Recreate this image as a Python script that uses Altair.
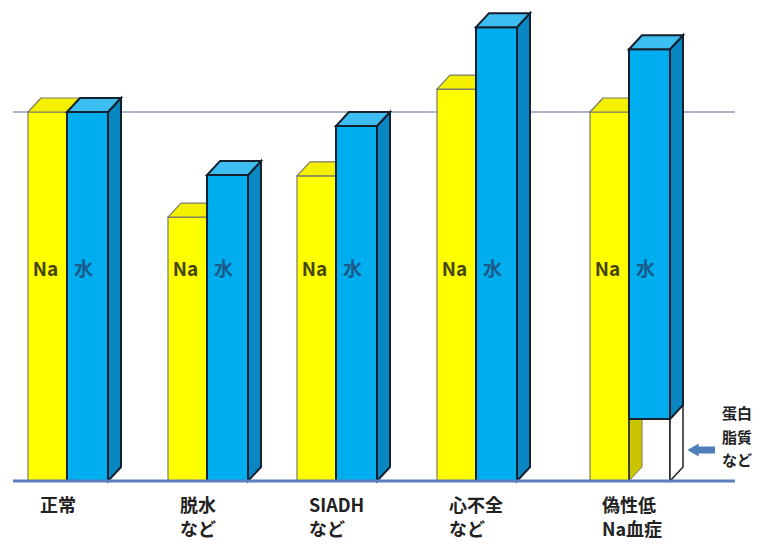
import altair as alt
import pandas as pd

# ---------------- data ----------------
categories = [["正常"], ["脱水", "など"], ["SIADH", "など"], ["心不全", "など"], ["偽性低", "Na血症"]]
na_values = [100, 71.5, 82.7, 106.2, 100]
water_values = [100, 82.9, 96.2, 123.0, 117.0]
water_bottom = [0, 0, 0, 0, 16.8]      # protein / lipid portion (pseudo-hyponatremia)
side_note = ["蛋白", "脂質", "など"]
na_label = "Na"
water_label = "水"
reference_level = 100

# ---------------- layout ----------------
group_left = [28, 168, 297, 437, 590]
NA_W, WA_W = 39, 41
DX, DY_PX = 13, 14
PX_PER_UNIT = 3.69
DY = DY_PX / PX_PER_UNIT
W, H = 747, 534
BASE_Y = 481
FONT = "Noto Sans CJK JP"

xs = alt.Scale(domain=[8, 8 + W], nice=False, zero=False)
ys = alt.Scale(domain=[(BASE_Y - 8 - H) / PX_PER_UNIT, (BASE_Y - 8) / PX_PER_UNIT], nice=False, zero=False)


def v(py):
    return (BASE_Y - py) / PX_PER_UNIT


def fronts(lefts, widths, tops, bottoms):
    return pd.DataFrame({"x": lefts, "x2": [l + w for l, w in zip(lefts, widths)], "y": tops, "y2": bottoms})


def sides(lefts, widths, tops, bottoms):
    rows = []
    for i, (l, w, t, b) in enumerate(zip(lefts, widths, tops, bottoms)):
        r = l + w
        rows.append({"id": i, "x": r, "y": t, "y2": b})
        rows.append({"id": i, "x": r + DX, "y": t + DY, "y2": b + DY})
    return pd.DataFrame(rows)


def tops_(lefts, widths, tops):
    rows = []
    for i, (l, w, t) in enumerate(zip(lefts, widths, tops)):
        rows.append({"id": i, "y": t, "x": l, "x2": l + w})
        rows.append({"id": i, "y": t + DY, "x": l + DX, "x2": l + w + DX})
    return pd.DataFrame(rows)


n = len(categories)
na_left = group_left
na_w = [NA_W] * n
wa_left = [g + NA_W for g in group_left]
wa_w = [WA_W] * n


def rect_layer(df, fill, stroke, sw, opacity=1.0):
    return alt.Chart(df).mark_rect(fill=fill, stroke=stroke, strokeWidth=sw, fillOpacity=opacity).encode(
        x=alt.X("x:Q", scale=xs, axis=None), x2="x2:Q",
        y=alt.Y("y:Q", scale=ys, axis=None), y2="y2:Q")


def side_layer(df, fill, stroke, sw):
    return alt.Chart(df).mark_area(fill=fill, stroke=stroke, strokeWidth=sw, orient="vertical", opacity=1).encode(
        x=alt.X("x:Q", scale=xs, axis=None),
        y=alt.Y("y:Q", scale=ys, axis=None, stack=None), y2="y2:Q",
        detail="id:N")


def top_layer(df, fill, stroke, sw):
    return alt.Chart(df).mark_area(fill=fill, stroke=stroke, strokeWidth=sw, orient="horizontal", opacity=1).encode(
        y=alt.Y("y:Q", scale=ys, axis=None),
        x=alt.X("x:Q", scale=xs, axis=None, stack=None), x2="x2:Q",
        detail="id:N")


YEL_STROKE = "#7a7a6a"
BLU_STROKE = "#13202e"

ref_line = alt.Chart(pd.DataFrame({"x": [13], "x2": [735], "y": [reference_level]})).mark_rule(
    color="#a9b5c9", strokeWidth=2).encode(
    x=alt.X("x:Q", scale=xs, axis=None), x2="x2:Q", y=alt.Y("y:Q", scale=ys, axis=None))

na_side = side_layer(sides(na_left, na_w, na_values, [0] * n), "#cbc400", YEL_STROKE, 1)
na_front = rect_layer(fronts(na_left, na_w, na_values, [0] * n), "#ffff00", YEL_STROKE, 1.2)
na_top = top_layer(tops_(na_left, na_w, na_values), "#f4f000", YEL_STROKE, 1.2)

# protein / lipid box (only where water_bottom > 0)
idx = [i for i in range(n) if water_bottom[i] > 0]
box_front = rect_layer(fronts([wa_left[i] for i in idx], [WA_W] * len(idx),
                              [water_bottom[i] for i in idx], [0] * len(idx)), "#ffffff", "#222222", 1.5, 0.0)
box_side = side_layer(sides([wa_left[i] for i in idx], [WA_W] * len(idx),
                            [water_bottom[i] for i in idx], [0] * len(idx)), "#ffffff", "#222222", 1.5)

wa_side = side_layer(sides(wa_left, wa_w, water_values, water_bottom), "#0a87c2", BLU_STROKE, 2)
wa_front = rect_layer(fronts(wa_left, wa_w, water_values, water_bottom), "#00aeef", BLU_STROKE, 2)
wa_top = top_layer(tops_(wa_left, wa_w, water_values), "#3dbdf0", BLU_STROKE, 2)

base_line = alt.Chart(pd.DataFrame({"x": [13], "x2": [735], "y": [0]})).mark_rule(
    color="#5b7fbf", strokeWidth=3).encode(
    x=alt.X("x:Q", scale=xs, axis=None), x2="x2:Q", y=alt.Y("y:Q", scale=ys, axis=None))

# in-bar labels
inbar = pd.DataFrame(
    [{"x": na_left[i] + NA_W / 2 - 2, "t": na_label, "c": "na"} for i in range(n)] +
    [{"x": wa_left[i] + WA_W / 2 - 4, "t": water_label, "c": "wa"} for i in range(n)])
inbar["y"] = v(270)
na_text = alt.Chart(inbar[inbar.c == "na"]).mark_text(
    font=FONT, fontSize=19, fontWeight="bold", color="#45450e", baseline="middle", align="center").encode(
    x=alt.X("x:Q", scale=xs, axis=None), y=alt.Y("y:Q", scale=ys, axis=None), text="t:N")
wa_text = alt.Chart(inbar[inbar.c == "wa"]).mark_text(
    font=FONT, fontSize=19, fontWeight="bold", color="#1b5a8a", baseline="middle", align="center").encode(
    x=alt.X("x:Q", scale=xs, axis=None), y=alt.Y("y:Q", scale=ys, axis=None), text="t:N")

# category labels
cat_rows = []
for i, lines in enumerate(categories):
    for j, line in enumerate(lines):
        cat_rows.append({"x": group_left[i] + 12, "y": v(507 + 24 * j), "t": line})
cat_text = alt.Chart(pd.DataFrame(cat_rows)).mark_text(
    font=FONT, fontSize=18, fontWeight="bold", color="#222222", baseline="middle", align="left").encode(
    x=alt.X("x:Q", scale=xs, axis=None), y=alt.Y("y:Q", scale=ys, axis=None), text="t:N")

# side note + arrow
note_df = pd.DataFrame({"x": [722] * len(side_note), "y": [v(414), v(438), v(461)], "t": side_note})
note_text = alt.Chart(note_df).mark_text(
    font=FONT, fontSize=15, fontWeight="bold", color="#222222", baseline="middle", align="left").encode(
    x=alt.X("x:Q", scale=xs, axis=None), y=alt.Y("y:Q", scale=ys, axis=None), text="t:N")

arrow_shaft = alt.Chart(pd.DataFrame({"x": [695], "x2": [715], "y": [v(450)]})).mark_rule(
    color="#4f7fbb", strokeWidth=7).encode(
    x=alt.X("x:Q", scale=xs, axis=None), x2="x2:Q", y=alt.Y("y:Q", scale=ys, axis=None))
arrow_head = alt.Chart(pd.DataFrame({"x": [693], "y": [v(450)]})).mark_point(
    shape="triangle-left", filled=True, color="#4f7fbb", size=170, opacity=1).encode(
    x=alt.X("x:Q", scale=xs, axis=None), y=alt.Y("y:Q", scale=ys, axis=None))

chart = alt.layer(
    ref_line, na_side, na_front, na_top, box_front, box_side,
    wa_side, wa_front, wa_top, base_line,
    na_text, wa_text, cat_text, note_text, arrow_shaft, arrow_head
).properties(width=W, height=H, padding=0, autosize="none", background="white"
).configure_view(stroke=None)

chart.save("out.html", embed_options={"renderer": "svg", "actions": False})
